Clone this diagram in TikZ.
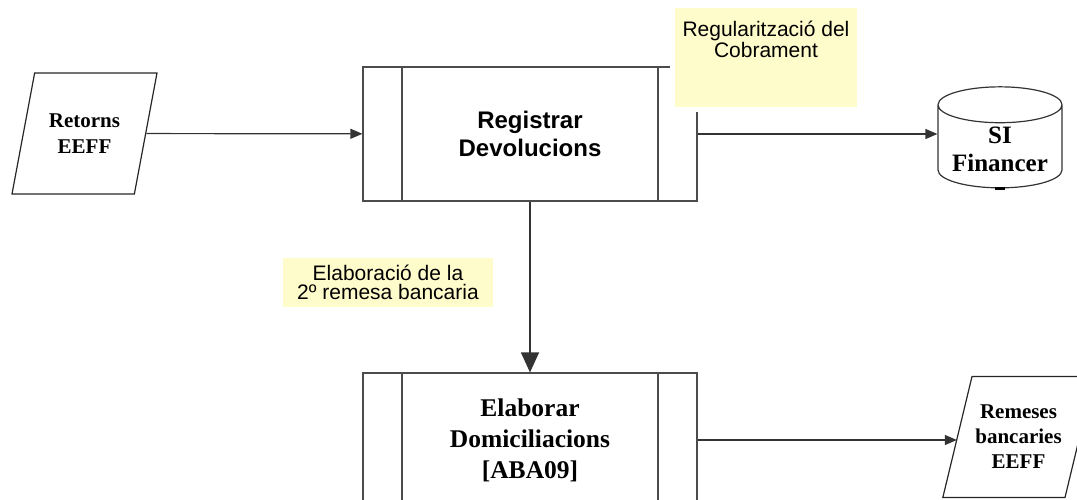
\documentclass[tikz,border=0pt]{standalone}
\usepackage{fontspec}
\setmainfont{Liberation Serif}
\newfontfamily\arialf{Liberation Sans}
\usetikzlibrary{arrows.meta,shapes.geometric}
\begin{document}
\begin{tikzpicture}[x=1pt,y=-1pt,>={Triangle[length=12pt,width=10pt]},
    proc/.style={draw=black!70,line width=1.2pt,minimum width=334pt,minimum height=134pt,align=center,
      path picture={\draw[black!70,line width=1.2pt]
        ([xshift=39pt]path picture bounding box.north west) -- ([xshift=39pt]path picture bounding box.south west)
        ([xshift=-39pt]path picture bounding box.north east) -- ([xshift=-39pt]path picture bounding box.south east);}},
    io/.style={trapezium,trapezium left angle=67.5,trapezium right angle=112.5,trapezium stretches body=true,
      draw=black!85,line width=1.2pt,minimum width=145pt,minimum height=121pt,align=center},
    note/.style={fill=yellow!20,preaction={draw=white,line width=10pt},inner sep=0pt},
    notetext/.style={font=\arialf\fontsize{21}{19}\selectfont,align=center,inner sep=0pt},
    flow/.style={->,draw=black!80,line width=1.2pt}]
    \useasboundingbox (0,0) rectangle (1077,499);
    \path (84.5,133.5) node [io,trapezium left angle=64,trapezium right angle=116,
      font=\bfseries\fontsize{21}{26}\selectfont](retorns){Retorns\\EEFF};
    \path (530,134) node [proc,font=\arialf\bfseries\fontsize{24}{28}\selectfont](registrar){Registrar\\Devolucions};
    \path (530,440) node [proc,font=\bfseries\fontsize{25.5}{31}\selectfont](elaborar){Elaborar\\Domiciliacions\\{[ABA09]}};
    \path (1000,149.5) node [cylinder,shape border rotate=90,aspect=0.35,draw=black!80,line width=1.2pt,
      minimum width=124pt,minimum height=101pt,align=center,font=\bfseries\fontsize{25}{28}\selectfont](financer){SI\\Financer};
    \path (1018.5,437) node [io,font=\bfseries\fontsize{21}{25}\selectfont](remeses){Remeses\\bancaries\\EEFF};
    % notes
    \path (766,57.5) node [note,minimum width=182pt,minimum height=99pt,
      label={[notetext,anchor=north,yshift=-13pt]north:Regularització del\\Cobrament}](regnote){};
    \path (388,282.5) node [note,minimum width=210pt,minimum height=49pt,notetext](remnote){Elaboració de la\\2º remesa bancaria};
    % connectors
    \draw[flow] (retorns) -- (registrar);
    \draw[flow] (registrar.east) -- (registrar.east -| financer.west);
    \draw[flow,-{Triangle[length=20pt,width=18pt]}] (registrar) -- (elaborar.north);
    \draw[flow] (elaborar.east) -- (elaborar.east -| remeses.west);
    \draw[line width=2.5pt] ([xshift=-5pt]financer.south) -- ([xshift=5pt]financer.south);
\end{tikzpicture}
\end{document}
